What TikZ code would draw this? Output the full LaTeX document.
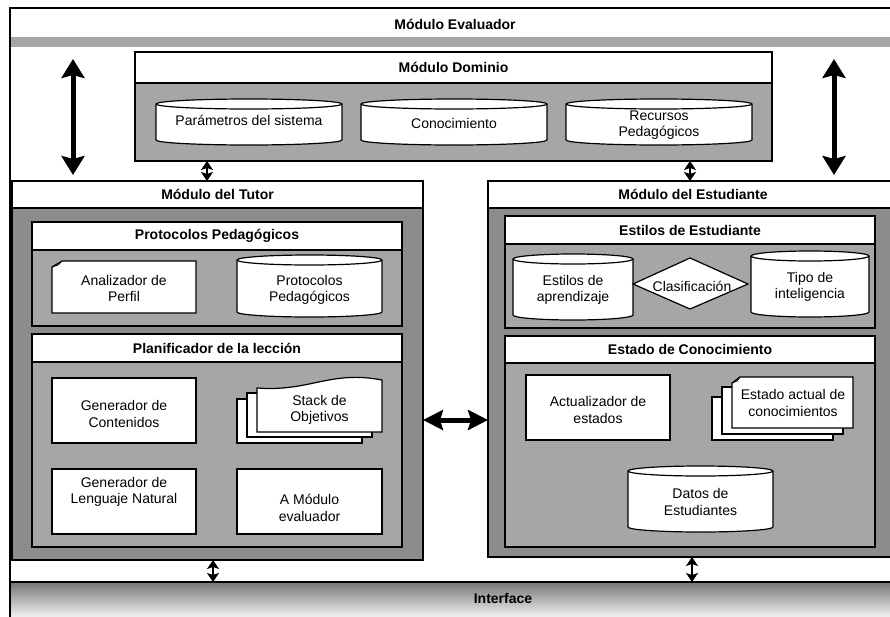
\documentclass[tikz,border=0pt]{standalone}
\usepackage{fontspec}
\setmainfont{Liberation Sans}
\usetikzlibrary{arrows.meta,calc}
\definecolor{panelDark}{RGB}{140,140,140}
\definecolor{panelLight}{RGB}{166,166,166}

\tikzset{
  shp/.style={draw=black, fill=white, line width=1.2pt, line join=miter},
  pnl/.style={draw=black, line width=1.2pt, inner sep=0pt, outer sep=0pt},
  txt/.style={font=\fontsize{14}{16.5}\selectfont, align=center, inner sep=0pt},
  hdr/.style={font=\bfseries\fontsize{14}{16.5}\selectfont, align=center, inner sep=0pt},
  bigarr/.style={line width=5pt, {Stealth[length=19pt,width=23pt,inset=3pt]}-{Stealth[length=19pt,width=23pt,inset=3pt]}},
  hzarr/.style={line width=5pt, {Stealth[length=20pt,width=20pt,inset=3pt]}-{Stealth[length=20pt,width=20pt,inset=3pt]}},
  smarr/.style={line width=2.5pt, {Stealth[length=9pt,width=12pt,inset=2pt]}-{Stealth[length=9pt,width=12pt,inset=2pt]}}
}

% panel: name, x1, y1, x2, y2, header height, body colour, title
\newcommand\panel[8]{%
  \pgfmathsetmacro\pnlw{#4-#2}\pgfmathsetmacro\pnlh{#5-#3}%
  \node[pnl, fill=#7, minimum width=\pnlw pt, minimum height=\pnlh pt, anchor=north west] (#1) at (#2,#3) {};
  \draw[line width=1.2pt, fill=white] (#1.north west) rectangle ([yshift=-#6pt]#1.north east);
  \node[hdr] (#1-title) at ([yshift=-#6pt/2]#1.north) {#8};
}

% drum (cylinder): name, x1, y1, x2, y2, text centre y, text
\newcommand\drum[7]{%
  \pgfmathsetmacro\drr{(#4-#2)/2}%
  \filldraw[shp] (#2,#3+5) -- (#2,#5-5)
    arc[start angle=180,end angle=360,x radius=\drr pt,y radius=5pt]
    -- (#4,#3+5)
    arc[start angle=0,end angle=180,x radius=\drr pt,y radius=5pt] -- cycle;
  \draw[shp, fill=none] (#2,#3+5) arc[start angle=180,end angle=360,x radius=\drr pt,y radius=5pt];
  \node[txt] (#1) at ({(#2+#4)/2},#6) {#7};
}

\begin{document}
\begin{tikzpicture}[x=1pt,y=-1pt]
\useasboundingbox (0,0) rectangle (890,616);
\fill[white] (0,0) rectangle (890,616);

% Módulo Evaluador frame
\node[inner sep=0pt, minimum width=890pt, minimum height=640pt, anchor=north west] (eval) at (10,8) {};
\fill[panelLight] (10,37) rectangle (900,47);
\node[hdr] (eval-title) at (455,24) {Módulo Evaluador};

% Módulo Dominio
\panel{dom}{135}{52}{772}{161}{31}{panelLight}{Módulo Dominio}
\drum{par}{156}{99}{342}{145}{120}{Parámetros del sistema}
\drum{con}{361}{99}{547}{145}{123}{Conocimiento}
\drum{rec}{566}{99}{752}{145}{125}{Recursos\\Pedagógicos}

% Módulo del Tutor
\panel{tutor}{12}{181}{423}{560}{27}{panelDark}{Módulo del Tutor}
\panel{prot}{32}{222}{402}{326}{28}{panelLight}{Protocolos Pedagógicos}
\filldraw[shp] (52,267) -- (62,261) -- (196,261) -- (196,313) -- (52,313) -- cycle;
\draw[line width=0.9pt] (52,267) -- (58,265) -- (62,261);
\node[txt] (anper) at (124,288.5) {Analizador de\\Perfil};
\drum{protdb}{237}{255}{382}{317}{290}{Protocolos\\Pedagógicos}

\panel{plan}{32}{334}{402}{547}{28}{panelLight}{Planificador de la lección}
\filldraw[shp] (52,378) rectangle (196,443);
\node[txt] (gencont) at (124,414) {Generador de\\Contenidos};
\filldraw[shp] (237,399) rectangle (362,443);
\filldraw[shp] (247,393) rectangle (372,437);
\filldraw[shp] (257,388) .. controls (310,392) and (330,370) .. (382,380) -- (382,432) -- (257,432) -- cycle;
\node[txt] (stack) at (319.5,410) {Stack de\\Objetivos};
\filldraw[shp] (52,469) rectangle (196,534);
\node[txt] (genln) at (124,492) {Generador de\\Lenguaje Natural};
\filldraw[shp] (237,469) rectangle (382,534);
\node[txt] (amod) at (309.5,508) {A Módulo\\evaluador};

% Módulo del Estudiante
\panel{est}{488}{181}{898}{557}{27}{panelDark}{Módulo del Estudiante}
\panel{estil}{505}{216}{875}{328}{28}{panelLight}{Estilos de Estudiante}
\drum{estap}{513}{254}{633}{320}{290}{Estilos de\\aprendizaje}
\filldraw[shp] (633,284) -- (690,258) -- (748,284) -- (690,309) -- cycle;
\node[txt] (clas) at (692,286) {Clasificación};
\drum{tipo}{751}{251}{869}{317}{287}{Tipo de\\inteligencia}

\panel{estado}{505}{336}{875}{547}{27}{panelLight}{Estado de Conocimiento}
\filldraw[shp] (526,375) rectangle (670,440);
\node[txt] (actual) at (598,410) {Actualizador de\\estados};
\filldraw[shp] (712,397) rectangle (833,440);
\filldraw[shp] (722,387) rectangle (843,434);
\filldraw[shp] (732,383) -- (740,377) -- (853,377) -- (853,428) -- (732,428) -- cycle;
\draw[line width=0.9pt] (732,383) -- (737,381) -- (740,377);
\node[txt] (estact) at (793,403) {Estado actual de\\conocimientos};
\drum{datos}{628}{466}{773}{532}{502}{Datos de\\Estudiantes}

% Interface
\node[inner sep=0pt, minimum width=890pt, minimum height=36pt, anchor=north west,
      top color={rgb,255:red,118;green,118;blue,118}, bottom color={rgb,255:red,246;green,246;blue,246}] (iface) at (10,582) {};
\draw[line width=1.2pt] (iface.north west) -- (iface.north east);
\node[hdr] (iface-title) at (503,598) {Interface};

% frame border of Módulo Evaluador
\draw[line width=1.2pt] (eval.south west) -- (eval.north west) -- (eval.north east);

% connectors
\coordinate (bl1) at (73,59);  \coordinate (bl2) at (73,175);
\coordinate (br1) at (834,59); \coordinate (br2) at (834,175);
\draw[bigarr] (bl1) -- (bl2);
\draw[bigarr] (br1) -- (br2);

\coordinate (xa) at (207,0);
\coordinate (xb) at (690,0);
\coordinate (xc) at (213,0);
\coordinate (xd) at (692,0);
\coordinate (yh) at (0,420);
\draw[smarr] (dom.south -| xa) -- (tutor.north -| xa);
\draw[smarr] (dom.south -| xb) -- (est.north -| xb);
\draw[hzarr] (tutor.east |- yh) -- (est.west |- yh);
\draw[smarr] (tutor.south -| xc) -- (iface.north -| xc);
\draw[smarr] (est.south -| xd) -- (iface.north -| xd);
\end{tikzpicture}
\end{document}
